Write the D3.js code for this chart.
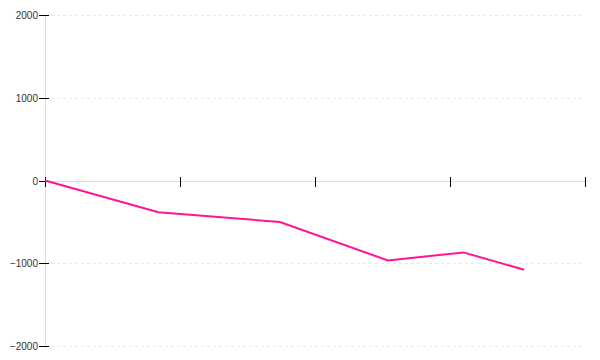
<!DOCTYPE html>
<html>
<head>
<meta charset="utf-8">
<script src="https://d3js.org/d3.v7.min.js"></script>
<style>
  body { margin: 0; background: #fff; }
  svg { display: block; }
</style>
</head>
<body>
<svg id="chart" width="600" height="360"></svg>
<script>
const xValues = [0, 0.84, 1.74, 2.54, 3.1, 3.55];
const yValues = [0, -384, -501, -966, -869, -1079];
const xTicks = [0, 1, 2, 3, 4];
const yTicks = [2000, 1000, 0, -1000, -2000];
const yTickLabels = ["2000", "1000", "0", "\u22121000", "\u22122000"];

const svg = d3.select("#chart");
const x = d3.scaleLinear().domain([0, 4]).range([45, 585]);
const y = d3.scaleLinear().domain([-2000, 2000]).range([346, 15]);

// grid lines (dotted)
svg.append("g").selectAll("line")
  .data(yTicks.filter(d => d !== 0))
  .join("line")
  .attr("x1", x(0)).attr("x2", x(4))
  .attr("y1", d => Math.round(y(d)) + 0.5).attr("y2", d => Math.round(y(d)) + 0.5)
  .attr("stroke", "#e8e8e8").attr("stroke-width", 1)
  .attr("stroke-dasharray", "3,3");

// y axis line
svg.append("line")
  .attr("x1", x(0) + 0.5).attr("x2", x(0) + 0.5)
  .attr("y1", y(2000)).attr("y2", y(-2000) + 2)
  .attr("stroke", "#dcdcdc").attr("stroke-width", 1);

// x axis line at y=0
svg.append("line")
  .attr("x1", x(0)).attr("x2", x(4))
  .attr("y1", Math.round(y(0)) + 0.5).attr("y2", Math.round(y(0)) + 0.5)
  .attr("stroke", "#dcdcdc").attr("stroke-width", 1);

// y ticks
const yt = svg.append("g").selectAll("g")
  .data(yTicks)
  .join("g")
  .attr("transform", d => `translate(${x(0)},${Math.round(y(d)) + 0.5})`);
yt.append("line")
  .attr("x1", -6).attr("x2", 4)
  .attr("stroke", "#000").attr("stroke-width", 1);
yt.append("text")
  .attr("x", -7).attr("dy", "0.35em")
  .attr("text-anchor", "end")
  .attr("font-family", "Liberation Sans, Arial, sans-serif")
  .attr("font-size", 10)
  .attr("fill", "#333")
  .text((d, i) => yTickLabels[i]);

// x ticks
svg.append("g").selectAll("line")
  .data(xTicks)
  .join("line")
  .attr("x1", d => Math.round(x(d)) + 0.5).attr("x2", d => Math.round(x(d)) + 0.5)
  .attr("y1", Math.round(y(0)) - 4).attr("y2", Math.round(y(0)) + 6)
  .attr("stroke", "#000").attr("stroke-width", 1);

// line
const data = xValues.map((d, i) => [d, yValues[i]]);
svg.append("path")
  .datum(data)
  .attr("fill", "none")
  .attr("stroke", "#ff1493")
  .attr("stroke-width", 2)
  .attr("d", d3.line().x(d => x(d[0])).y(d => y(d[1])));
</script>
</body>
</html>
